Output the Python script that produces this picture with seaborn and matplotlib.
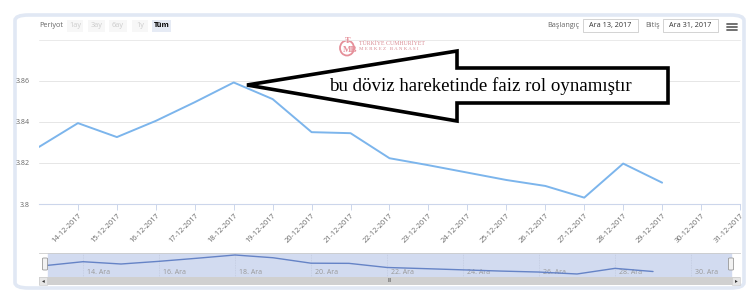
import matplotlib
matplotlib.use("Agg")
import matplotlib.pyplot as plt
import matplotlib.patches as mpatches
import seaborn as sns
import pandas as pd

# ---------------- data ----------------
days = [13, 14, 15, 16, 17, 18, 19, 20, 21, 22, 23, 24, 25, 26, 27, 28, 29]
rates = [3.8278, 3.8394, 3.8326, 3.8405, 3.8496, 3.8592, 3.8511, 3.8350,
         3.8345, 3.8223, 3.8189, 3.8153, 3.8117, 3.8088, 3.8031, 3.8197, 3.8104]
tick_days = list(range(14, 32))
tick_labels = [f"{d}-12-2017" for d in tick_days]
y_ticks = [3.80, 3.82, 3.84, 3.86]
y_tick_labels = ["3.8", "3.82", "3.84", "3.86"]
nav_days = [14, 16, 18, 20, 22, 24, 26, 28, 30]
nav_labels = [f"{d}. Ara" for d in nav_days]
period_buttons = ["1ay", "3ay", "6ay", "1y", "Tüm"]
annotation = "bu döviz hareketinde faiz rol oynamıştır"

df = pd.DataFrame({"day": days, "rate": rates})

sns.set_theme(style="white")
plt.rcParams["font.family"] = ["Open Sans", "DejaVu Sans"]

W, H = 756, 305
fig = plt.figure(figsize=(W / 100, H / 100), dpi=100)
fig.patch.set_facecolor("white")


def fx(x):
    return x / W


def fy(y):
    return 1 - y / H


def rect_px(x0, y0, x1, y1):
    return [fx(x0), fy(y1), fx(x1) - fx(x0), fy(y0) - fy(y1)]


# outer rounded frame
frame = mpatches.FancyBboxPatch((fx(15), fy(288)), fx(744) - fx(15), fy(15) - fy(288),
                                boxstyle="round,pad=0,rounding_size=0.018",
                                transform=fig.transFigure, facecolor="none",
                                edgecolor="#e1e8f4", linewidth=2.6, zorder=-1)
fig.patches.append(frame)

# ---------------- main chart ----------------
ax = fig.add_axes(rect_px(39, 48, 740, 204))
sns.lineplot(data=df, x="day", y="rate", ax=ax, color="#7cb5ec", linewidth=1.4)
ax.set_xlim(13, 31)
ax.set_ylim(3.80, 3.876)
ax.set_yticks(y_ticks)
ax.set_yticklabels(y_tick_labels)
ax.set_xticks(tick_days)
ax.set_xticklabels(tick_labels, rotation=45, ha="right", va="top", rotation_mode="anchor")
ax.set_xlabel("")
ax.set_ylabel("")
for s in ["top", "right", "left"]:
    ax.spines[s].set_visible(False)
ax.spines["bottom"].set_color("#ccd6eb")
ax.spines["bottom"].set_linewidth(0.8)
ax.yaxis.grid(True, color="#e6e6e6", linewidth=0.7)
ax.set_axisbelow(True)
ax.tick_params(axis="y", length=0, pad=6.5, labelsize=5, labelcolor="#666666")
ax.tick_params(axis="x", direction="out", length=4, width=0.7, color="#ccd6eb",
               labelsize=5.3, labelcolor="#666666", pad=2, bottom=True)
ax.patch.set_alpha(0)

# ---------------- navigator ----------------
nav = fig.add_axes(rect_px(39, 253, 740, 277))
nav.set_xlim(12.842, 31.289)
nav.set_ylim(3.7942, 3.8651)
nav.axvspan(13.08, 31.05, color="#d2dbf0", zorder=0)
for d, lab in zip(nav_days, nav_labels):
    nav.axvline(d, color="#c3cbe0", linewidth=0.6, linestyle=(0, (1, 1)), zorder=1)
    nav.text(d + 0.1, 3.7965, lab, fontsize=5, color="#999999", ha="left", va="bottom")
sns.lineplot(data=df, x="day", y="rate", ax=nav, color="#6583c6", linewidth=1.0, zorder=3)
nav.set_xticks([])
nav.set_yticks([])
nav.set_xlabel("")
nav.set_ylabel("")
for s in ["right", "left", "bottom"]:
    nav.spines[s].set_visible(False)
nav.spines["top"].set_color("#cccccc")
nav.spines["top"].set_linewidth(0.6)
nav.patch.set_alpha(0)

# navigator handles
for hx in (45, 731):
    fig.patches.append(mpatches.FancyBboxPatch((fx(hx - 2.5), fy(270)), fx(5), fy(258) - fy(270),
                                               boxstyle="round,pad=0,rounding_size=0.002",
                                               transform=fig.transFigure, facecolor="#f2f2f2",
                                               edgecolor="#999999", linewidth=0.6, zorder=5))

# scrollbar
fig.patches.append(mpatches.Rectangle((fx(39), fy(285)), fx(701), fy(277) - fy(285),
                                      transform=fig.transFigure, facecolor="#d0d0d0",
                                      edgecolor="none", zorder=4))
fig.patches.append(mpatches.Rectangle((fx(39), fy(285)), fx(8), fy(277) - fy(285),
                                      transform=fig.transFigure, facecolor="#e6e6e6",
                                      edgecolor="#cccccc", linewidth=0.4, zorder=5))
fig.patches.append(mpatches.Rectangle((fx(732), fy(285)), fx(8), fy(277) - fy(285),
                                      transform=fig.transFigure, facecolor="#e6e6e6",
                                      edgecolor="#cccccc", linewidth=0.4, zorder=5))
fig.text(fx(43), fy(281), "◂", fontsize=4, color="#333333", ha="center", va="center",
         family=["DejaVu Sans"], zorder=6)
fig.text(fx(736), fy(281), "▸", fontsize=4, color="#333333", ha="center", va="center",
         family=["DejaVu Sans"], zorder=6)
fig.text(fx(390), fy(281), "III", fontsize=3.5, color="#333333", ha="center", va="center",
         zorder=6)

# ---------------- header ----------------
fig.lines.append(plt.Line2D([fx(39), fx(740)], [fy(39.5), fy(39.5)], transform=fig.transFigure,
                            color="#e6e6e6", linewidth=0.6))
fig.text(fx(39), fy(25.5), "Periyot", fontsize=5.2, color="#666666", ha="left", va="center")
btn_x = [(67, 83), (88, 105), (109, 127), (132, 148), (152, 171)]
for (x0, x1), lab in zip(btn_x, period_buttons):
    active = lab == "Tüm"
    fig.patches.append(mpatches.Rectangle((fx(x0), fy(32)), fx(x1 - x0), fy(20) - fy(32),
                                          transform=fig.transFigure,
                                          facecolor="#e6ebf5" if active else "#f7f7f7",
                                          edgecolor="none", zorder=1))
    fig.text(fx((x0 + x1) / 2), fy(25.5), lab, fontsize=5.2,
             color="#000000" if active else "#cccccc",
             weight="bold" if active else "normal", ha="center", va="center", zorder=2)

fig.text(fx(579), fy(25.5), "Başlangıç", fontsize=5.2, color="#666666", ha="right", va="center")
fig.text(fx(660), fy(25.5), "Bitiş", fontsize=5.2, color="#666666", ha="right", va="center")
for (x0, x1), lab in zip([(583, 638), (663, 718)], ["Ara 13, 2017", "Ara 31, 2017"]):
    fig.patches.append(mpatches.Rectangle((fx(x0), fy(32)), fx(x1 - x0), fy(19) - fy(32),
                                          transform=fig.transFigure, facecolor="white",
                                          edgecolor="#cccccc", linewidth=0.6, zorder=1))
    fig.text(fx((x0 + x1) / 2), fy(25.5), lab, fontsize=5.2, color="#333333",
             ha="center", va="center", zorder=2)
for yy in (24, 27, 30):
    fig.lines.append(plt.Line2D([fx(727), fx(737)], [fy(yy), fy(yy)], transform=fig.transFigure,
                                color="#666666", linewidth=1.3))

# logo
fig.patches.append(mpatches.Ellipse((fx(347), fy(48)), fx(14), fy(40) - fy(55),
                                    transform=fig.transFigure,
                                    facecolor="none", edgecolor="#e58f99", linewidth=1.3))
fig.text(fx(350), fy(49.5), "MB", fontsize=6.5, color="#e58f99", ha="center", va="center",
         weight="bold", family=["Liberation Serif"])
fig.text(fx(348), fy(41), "T", fontsize=6, color="#e58f99", ha="center", va="center",
         weight="bold", family=["Liberation Serif"])
fig.text(fx(359), fy(43.5), "TÜRKİYE CUMHURİYET", fontsize=4.2, color="#d98b93", ha="left",
         va="center", family=["Liberation Serif"])
fig.text(fx(359), fy(49.5), "M E R K E Z   B A N K A S I", fontsize=3.6, color="#d98b93",
         ha="left", va="center", family=["Liberation Serif"])

# ---------------- arrow annotation ----------------
arrow_px = [(247, 85), (457, 51), (457, 68), (668, 68), (668, 103), (457, 103), (457, 121)]
poly = mpatches.Polygon([(fx(x), fy(y)) for x, y in arrow_px], closed=True,
                        transform=fig.transFigure, facecolor="white", edgecolor="black",
                        linewidth=2.6, joinstyle="miter", zorder=10)
fig.patches.append(poly)
fig.text(fx(480), fy(86), annotation, fontsize=13.6, color="black", ha="center", va="center",
         family=["Liberation Serif", "DejaVu Serif"], zorder=11)

fig.savefig("out.png", dpi=100, facecolor="white")
